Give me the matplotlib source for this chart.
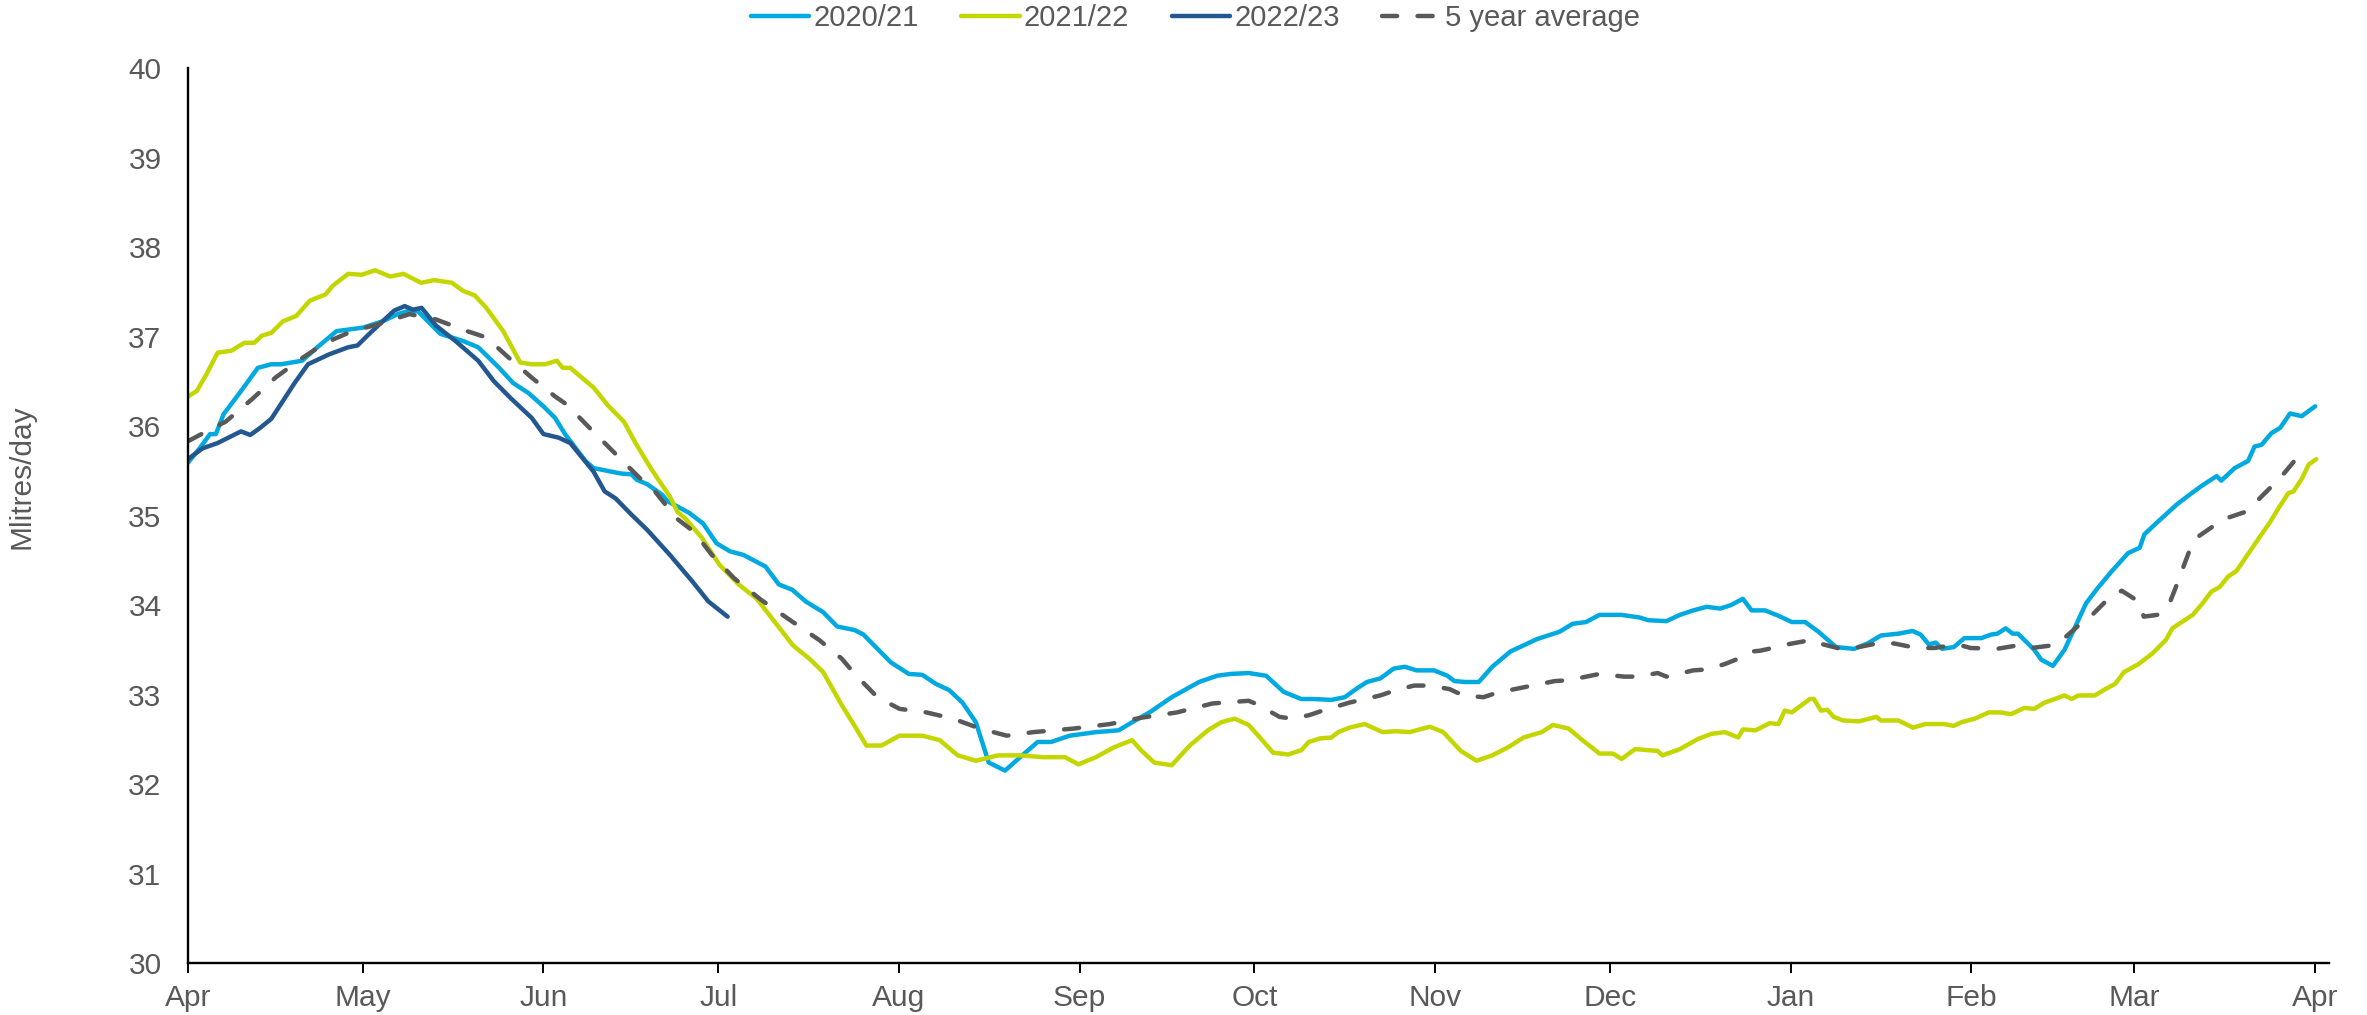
import matplotlib
matplotlib.use('Agg')
import matplotlib.pyplot as plt
import matplotlib.dates as mdates
import numpy as np
from datetime import datetime

plt.rcParams['font.family'] = ['Liberation Sans', 'DejaVu Sans']

# days after 1 April, and values in Mlitres/day
days_2021 = [0, 2, 3.8, 4.8, 6.1, 9.1, 12, 14.3, 16, 19.6, 22.2, 25.5, 30.1, 33.4, 36, 38, 39.5,
             43.3, 47.2, 49.8, 53.4, 55.8, 58.4, 61, 63, 64.7, 68.2, 69.6, 74.2, 76.1, 77, 78.8,
             81.4, 82.3, 86, 88.4, 90.7, 93, 95.3, 99.1, 101.4, 103.7, 106, 109, 111.4, 114.4,
             115.9, 120.6, 123.7, 126, 128.3, 130.6, 132.9, 135.2, 137.4, 140.2, 142.8, 145.8,
             148.1, 151.3, 155.8, 159.7, 162, 165, 168.8, 173.5, 176.6, 178.9, 182, 185, 188, 191,
             193.1, 196.2, 198.5, 200.4, 202.3, 204.6, 206.9, 208.8, 210.8, 213.8, 216.1, 217.3,
             219.2, 221.5, 223.8, 226.9, 229.2, 231.5, 235.3, 237.6, 239.9, 242.2, 246, 249.1,
             250.6, 253.7, 256, 258.3, 260.6, 262.9, 264.8, 266.8, 268.3, 270.6, 272.9, 275.2,
             277.5, 279.8, 282.8, 285.9, 288.2, 290.5, 293.5, 295.9, 297.3, 298.7, 299.9, 301, 303,
             304.8, 307.7, 309.4, 310.5, 311.9, 313.1, 314, 315.1, 316.8, 318, 320, 322, 323.7,
             325.7, 327.7, 330, 332.9, 334.9, 335.7, 338, 339.7, 341.2, 343.2, 345.5, 348.1,
             348.9, 351.2, 353.5, 354.6, 355.8, 357.5, 359, 360.7, 362.7, 365]
vals_2021 = [35.59, 35.75, 35.91, 35.91, 36.13, 36.39, 36.65, 36.69, 36.69, 36.73, 36.88, 37.06,
             37.10, 37.17, 37.25, 37.29, 37.28, 37.03, 36.95, 36.88, 36.65, 36.48, 36.37, 36.22,
             36.09, 35.91, 35.61, 35.53, 35.47, 35.46, 35.40, 35.35, 35.23, 35.16, 35.03, 34.91,
             34.69, 34.60, 34.56, 34.43, 34.23, 34.17, 34.04, 33.92, 33.76, 33.72, 33.67, 33.36,
             33.23, 33.22, 33.12, 33.05, 32.91, 32.69, 32.24, 32.15, 32.30, 32.47, 32.47, 32.54,
             32.58, 32.60, 32.69, 32.80, 32.97, 33.14, 33.21, 33.23, 33.24, 33.21, 33.03, 32.95,
             32.95, 32.94, 32.97, 33.06, 33.14, 33.18, 33.29, 33.31, 33.27, 33.27, 33.21, 33.15,
             33.14, 33.14, 33.31, 33.48, 33.55, 33.62, 33.70, 33.79, 33.81, 33.89, 33.89, 33.86,
             33.83, 33.82, 33.89, 33.94, 33.98, 33.96, 34.00, 34.07, 33.94, 33.94, 33.88, 33.81,
             33.81, 33.70, 33.53, 33.51, 33.57, 33.66, 33.68, 33.71, 33.67, 33.56, 33.58, 33.51,
             33.53, 33.63, 33.63, 33.67, 33.68, 33.74, 33.68, 33.68, 33.61, 33.50, 33.39, 33.32,
             33.50, 33.74, 34.02, 34.19, 34.37, 34.58, 34.64, 34.79, 34.93, 35.03, 35.12, 35.22,
             35.33, 35.44, 35.39, 35.53, 35.61, 35.77, 35.79, 35.92, 35.98, 36.14, 36.11, 36.22]

days_2122 = [0, 1.5, 3.2, 5.1, 7.4, 9.7, 11.4, 12.7, 14.3, 16.3, 18.6, 20.9, 23.6, 24.9, 27.5,
             29.8, 32.1, 34.7, 37, 40, 42.3, 45.3, 47.2, 49.2, 51.2, 54.1, 57, 59, 61.3, 63.3,
             64.3, 65.6, 69.6, 72.2, 74.8, 76.8, 79.4, 82.7, 84, 85.3, 88.2, 91.2, 94.5, 97.6,
             100.7, 103.8, 106.8, 109, 112.2, 114.4, 116.4, 119, 122.1, 126, 129, 132.1, 135.2,
             139, 142.8, 146.7, 150.5, 152.8, 155.8, 158.9, 162, 163.5, 165.8, 168.8, 171.9, 175,
             177.3, 179.6, 182, 184.2, 186.2, 188.8, 191.1, 192.3, 194.3, 196.2, 197.4, 199.3,
             201.9, 205, 207.3, 209.6, 213.1, 215.4, 218.4, 221.1, 223.8, 226.5, 229.2, 232.3,
             234.2, 236.9, 239.1, 242.2, 244.5, 246, 248.3, 252.2, 253, 256, 259, 261.4, 263.7,
             266, 266.8, 269, 271.4, 272.9, 274, 275.2, 278.3, 279, 280.2, 281.3, 282.4, 284,
             286.7, 289.7, 290.5, 293.5, 296, 298.1, 301.3, 303, 304.3, 306.6, 309, 311.1, 312.8,
             315.1, 316.8, 318.6, 322, 323.2, 324.4, 327.2, 329, 330.7, 332.2, 334.7, 337.1,
             339.4, 340.5, 342.6, 344, 345.7, 347.2, 348.6, 350.1, 351.5, 353.8, 355.8, 357.3,
             358.7, 360.4, 361.3, 362.8, 363.9, 365.2]
vals_2122 = [36.33, 36.39, 36.58, 36.82, 36.84, 36.93, 36.93, 37.01, 37.04, 37.17, 37.23, 37.40,
             37.47, 37.57, 37.70, 37.69, 37.74, 37.67, 37.70, 37.60, 37.63, 37.60, 37.51, 37.46,
             37.32, 37.06, 36.71, 36.69, 36.69, 36.73, 36.65, 36.65, 36.43, 36.22, 36.05, 35.81,
             35.53, 35.21, 35.04, 34.97, 34.75, 34.45, 34.23, 34.07, 33.81, 33.55, 33.39, 33.25,
             32.88, 32.65, 32.43, 32.43, 32.54, 32.54, 32.49, 32.32, 32.26, 32.32, 32.32, 32.30,
             32.30, 32.22, 32.30, 32.41, 32.49, 32.38, 32.24, 32.21, 32.43, 32.60, 32.69, 32.73,
             32.66, 32.50, 32.35, 32.33, 32.38, 32.47, 32.51, 32.52, 32.58, 32.63, 32.67, 32.58,
             32.59, 32.58, 32.64, 32.58, 32.37, 32.26, 32.32, 32.41, 32.52, 32.58, 32.66, 32.62,
             32.50, 32.34, 32.34, 32.28, 32.39, 32.37, 32.32, 32.39, 32.50, 32.56, 32.58, 32.52,
             32.61, 32.60, 32.68, 32.67, 32.82, 32.80, 32.95, 32.95, 32.82, 32.83, 32.75, 32.71,
             32.70, 32.75, 32.71, 32.71, 32.63, 32.67, 32.67, 32.65, 32.69, 32.73, 32.80, 32.80,
             32.78, 32.85, 32.84, 32.91, 32.99, 32.95, 32.99, 32.99, 33.06, 33.12, 33.25, 33.34,
             33.46, 33.61, 33.74, 33.83, 33.89, 34.02, 34.15, 34.20, 34.32, 34.38, 34.60, 34.79,
             34.93, 35.08, 35.25, 35.27, 35.42, 35.57, 35.63]

days_2223 = [0, 2.5, 5.1, 9.1, 10.7, 12.4, 14.3, 16.3, 18.3, 20.6, 24.2, 27.5, 29.1, 30.8, 33.4,
             35.4, 37.2, 38.6, 40.1, 42.6, 45.9, 49.8, 52.5, 55.4, 59, 61, 63.6, 65.6, 69.6, 71.5,
             73.4, 76.1, 78.8, 82.7, 86.6, 89.3, 92.6]
vals_2223 = [35.63, 35.75, 35.81, 35.94, 35.90, 35.98, 36.08, 36.28, 36.48, 36.69, 36.80, 36.88,
             36.90, 37.01, 37.17, 37.29, 37.34, 37.30, 37.32, 37.12, 36.95, 36.73, 36.50, 36.31,
             36.09, 35.91, 35.87, 35.81, 35.49, 35.27, 35.19, 35.01, 34.84, 34.56, 34.26, 34.04,
             33.87]

days_avg = [0, 3.2, 6.5, 11, 15, 19.6, 23.6, 28.2, 32.8, 38, 42.6, 47.9, 51.2, 55.1, 59, 63, 65,
            68.9, 73.5, 77.5, 80, 83.8, 86.8, 89.9, 93.7, 98.3, 102.9, 108.3, 112.2, 114.4, 118.3,
            122.1, 126.7, 131.3, 135.9, 140.5, 145.1, 152, 158.2, 163.5, 169.7, 175.8, 182, 183.5,
            187.3, 189.6, 192.4, 194.7, 199.3, 204.6, 207.3, 210.4, 213.1, 216.5, 218.8, 222.3,
            224.6, 228.4, 230.7, 234.5, 236.9, 240.7, 242.2, 246.4, 248.7, 252.2, 253.7, 258.3,
            260.6, 263.7, 266, 268.3, 269.8, 273.3, 274.4, 278.6, 280.6, 283.6, 285.9, 290.5,
            292.8, 296.6, 299.7, 303.6, 305.9, 310.4, 314, 316.3, 320, 322.3, 324.9, 326.9, 329.5,
            331.8, 334.7, 335.6, 337.9, 339.9, 341.1, 342.3, 343.4, 344.6, 347.5, 349.8, 353, 355,
            357.6, 359.4, 361.7, 363.9]
vals_avg = [35.83, 35.94, 36.05, 36.30, 36.54, 36.76, 36.93, 37.06, 37.14, 37.25, 37.19, 37.06,
            36.99, 36.76, 36.54, 36.33, 36.24, 35.98, 35.68, 35.42, 35.28, 34.97, 34.82, 34.56,
            34.30, 34.06, 33.85, 33.61, 33.40, 33.23, 32.97, 32.84, 32.80, 32.73, 32.62, 32.54,
            32.58, 32.62, 32.67, 32.74, 32.80, 32.90, 32.93, 32.89, 32.75, 32.73, 32.77, 32.82,
            32.91, 32.99, 33.05, 33.10, 33.10, 33.06, 32.99, 32.97, 33.02, 33.07, 33.10, 33.15,
            33.16, 33.21, 33.23, 33.20, 33.20, 33.24, 33.20, 33.27, 33.28, 33.34, 33.40, 33.48,
            33.49, 33.54, 33.56, 33.61, 33.56, 33.51, 33.52, 33.58, 33.57, 33.52, 33.52, 33.56,
            33.52, 33.51, 33.55, 33.52, 33.55, 33.65, 33.80, 33.90, 34.07, 34.16, 34.04, 33.87,
            33.89, 34.00, 34.20, 34.41, 34.60, 34.75, 34.88, 34.97, 35.04, 35.16, 35.33, 35.45,
            35.63, 35.75]

start = mdates.date2num(datetime(2022, 4, 1))

fig = plt.figure(figsize=(23.67, 10.15), dpi=100)
ax = fig.add_axes([0.0794, 0.0512, 0.9046, 0.8818])

lw = 3.2
ax.plot(start + np.array(days_2021), vals_2021, color='#00A9E0', lw=lw,
        solid_capstyle='round', solid_joinstyle='round', label='2020/21')
ax.plot(start + np.array(days_2122), vals_2122, color='#C4D600', lw=lw,
        solid_capstyle='round', solid_joinstyle='round', label='2021/22')
ax.plot(start + np.array(days_2223), vals_2223, color='#22588F', lw=lw,
        solid_capstyle='round', solid_joinstyle='round', label='2022/23')
ax.plot(start + np.array(days_avg), vals_avg, color='#595959', lw=lw, dashes=(3.4, 4.6),
        dash_capstyle='round', label='5 year average')

ax.set_ylim(30, 40)
ax.set_xlim(start, start + 367.4)
ax.set_yticks(range(30, 41))
ax.xaxis.set_major_locator(mdates.MonthLocator())
ax.xaxis.set_major_formatter(mdates.DateFormatter('%b'))

for s in ['top', 'right']:
    ax.spines[s].set_visible(False)
for s in ['left', 'bottom']:
    ax.spines[s].set_linewidth(1.7)
    ax.spines[s].set_color('black')

ax.tick_params(axis='y', length=0, pad=19, labelsize=21.5, labelcolor='#595959')
ax.tick_params(axis='x', length=7, width=1.4, pad=8, labelsize=21.5, labelcolor='#595959')

ax.set_ylabel('Mlitres/day', fontsize=21.5, color='#595959')
ax.yaxis.set_label_coords(-0.071, 0.543)

fig.legend(loc='center', bbox_to_anchor=(0.505, 0.982), ncol=4, frameon=False,
           fontsize=21, labelcolor='#595959', handlelength=2.0, handletextpad=0.15,
           columnspacing=1.45)

fig.savefig('out.png', dpi=100)
